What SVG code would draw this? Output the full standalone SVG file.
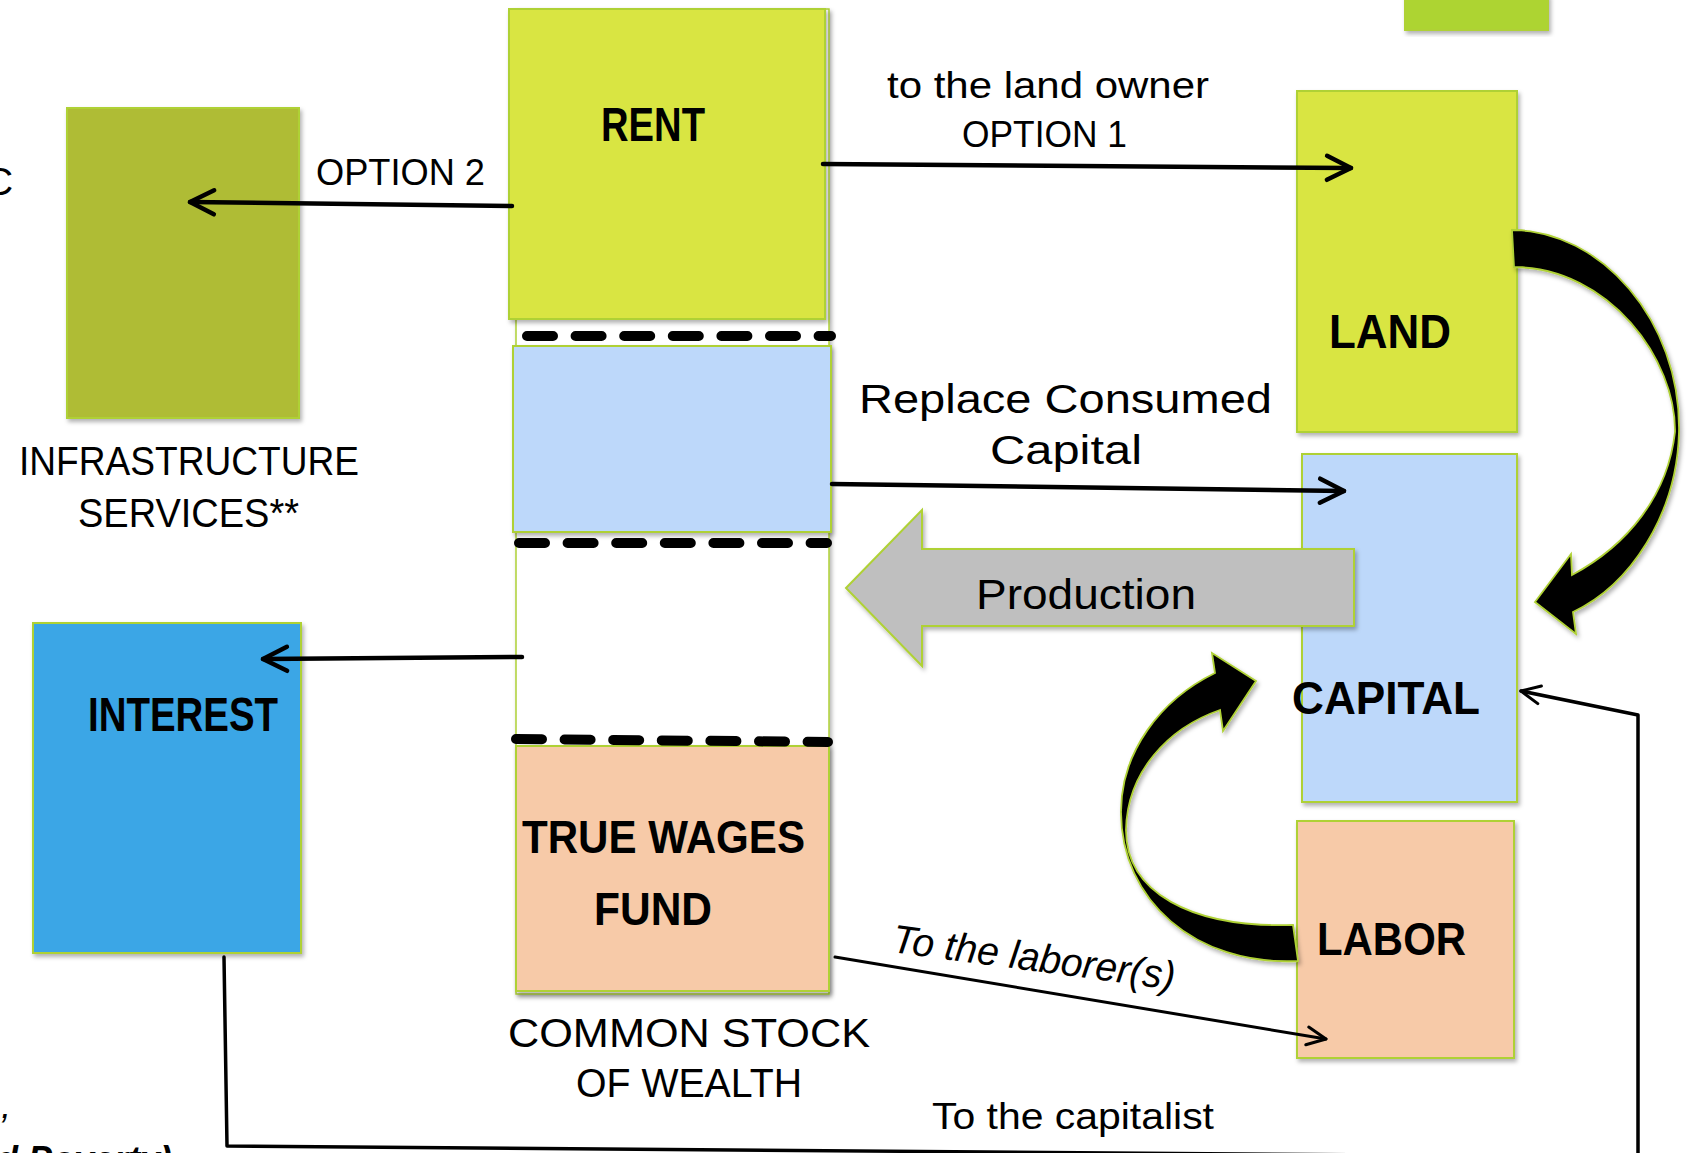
<svg xmlns="http://www.w3.org/2000/svg" width="1694" height="1153" viewBox="0 0 1694 1153">
<defs>
<filter id="sh" x="-10%" y="-10%" width="130%" height="130%"><feDropShadow dx="2" dy="3" stdDeviation="2" flood-color="#000" flood-opacity="0.3"/></filter>
<marker id="ah" markerUnits="userSpaceOnUse" viewBox="-30 -16 34 32" markerWidth="34" markerHeight="32" refX="0" refY="0" orient="auto" overflow="visible"><path d="M-24,-12 L0,0 L-24,12" fill="none" stroke="#000" stroke-width="4.5" stroke-linecap="round" stroke-linejoin="round"/></marker>
<marker id="ahs" markerUnits="userSpaceOnUse" viewBox="-24 -12 28 24" markerWidth="28" markerHeight="24" refX="0" refY="0" orient="auto" overflow="visible"><path d="M-19,-9 L0,0 L-19,9" fill="none" stroke="#000" stroke-width="3" stroke-linecap="round" stroke-linejoin="round"/></marker>
<style>
.bx{stroke:#AFD136;stroke-width:2;filter:url(#sh);}
.t{font-family:"Liberation Sans",Arial,sans-serif;fill:#000;}
.b{font-weight:bold;}
.ln{fill:none;stroke:#000;stroke-linecap:round;stroke-linejoin:round;}
.dash{fill:none;stroke:#000;stroke-width:10;stroke-linecap:round;stroke-dasharray:26 22.6;}
.blk{fill:#000;stroke:#AFD136;stroke-width:1.8;filter:url(#sh);}
</style>
</defs>
<rect width="1694" height="1153" fill="#fff"/>

<g id="topright"><rect class="bx" x="1405" y="-5" width="143" height="35" fill="#ADD432"/></g>

<g id="column"><rect x="516" y="9" width="313" height="985" fill="#fff" stroke="#AFD136" stroke-width="1.5" filter="url(#sh)"/></g>

<g id="rent"><rect class="bx" x="509" y="9" width="316" height="310" fill="#D9E542"/>
<text class="t b" x="601" y="141" font-size="49" textLength="104" lengthAdjust="spacingAndGlyphs">RENT</text></g>

<g id="replace"><rect class="bx" x="513" y="346" width="318" height="186" fill="#BDD8FA"/></g>

<g id="wages"><rect class="bx" x="516" y="746" width="313" height="245" fill="#F7CAA8"/>
<text class="t b" x="522" y="853" font-size="46" textLength="283" lengthAdjust="spacingAndGlyphs">TRUE WAGES</text>
<text class="t b" x="594" y="925" font-size="46" textLength="118" lengthAdjust="spacingAndGlyphs">FUND</text></g>

<g id="dividers">
<line class="dash" x1="527" y1="336" x2="831" y2="336"/>
<line class="dash" x1="519" y1="543" x2="827" y2="543"/>
<line class="dash" x1="516" y1="739" x2="828" y2="742"/>
</g>

<g id="stock-label">
<text class="t" x="508" y="1047" font-size="40" textLength="362" lengthAdjust="spacingAndGlyphs">COMMON STOCK</text>
<text class="t" x="576" y="1097" font-size="40" textLength="226" lengthAdjust="spacingAndGlyphs">OF WEALTH</text></g>

<g id="infrastructure"><rect class="bx" x="67" y="108" width="232" height="310" fill="#AFBC35"/>
<text class="t" x="19" y="475" font-size="41" textLength="340" lengthAdjust="spacingAndGlyphs">INFRASTRUCTURE</text>
<text class="t" x="78" y="527" font-size="41" textLength="221" lengthAdjust="spacingAndGlyphs">SERVICES**</text></g>

<g id="interest"><rect class="bx" x="33" y="623" width="268" height="330" fill="#3BA6E6"/>
<text class="t b" x="88" y="731" font-size="48" textLength="190" lengthAdjust="spacingAndGlyphs">INTEREST</text></g>

<g id="land"><rect class="bx" x="1297" y="91" width="220" height="341" fill="#D9E542"/>
<text class="t b" x="1329" y="348" font-size="49" textLength="122" lengthAdjust="spacingAndGlyphs">LAND</text></g>

<g id="capital"><rect class="bx" x="1302" y="454" width="215" height="348" fill="#BDD8FA"/>
<text class="t b" x="1292" y="714" font-size="47" textLength="188" lengthAdjust="spacingAndGlyphs">CAPITAL</text></g>

<g id="labor"><rect class="bx" x="1297" y="821" width="217" height="237" fill="#F7CAA8"/>
<text class="t b" x="1317" y="955" font-size="47" textLength="149" lengthAdjust="spacingAndGlyphs">LABOR</text></g>

<g id="edge-text">
<text class="t" x="-15" y="195" font-size="39">C</text>
<text class="t" x="1" y="1118" font-size="36" font-style="italic">,</text>
<text class="t b" x="-4" y="1172" font-size="36" font-style="italic">d Poverty)</text>
</g>

<g id="connectors">
<g id="production">
<polygon points="846,588 922,510 922,549 1354,549 1354,626 922,626 922,666" fill="#BFBFBF" stroke="#AFD136" stroke-width="2" filter="url(#sh)"/>
<text class="t" x="976" y="609" font-size="43" textLength="220" lengthAdjust="spacingAndGlyphs">Production</text>
</g>
<path class="blk" d="M1512,230 C1600,230 1681,320 1679,432 C1677,515 1630,585 1573,612 L1576,634 L1535,602 L1571,554 L1572,575 C1628,545 1668,495 1675,432 C1676,360 1610,268 1514,267 Z"/>
<path class="blk" d="M1298,961 C1195,966 1121,900 1121,812 C1121,752 1160,700 1215,673 L1212,653 L1256,681 L1223,731 L1220,710 C1168,728 1127,772 1126,830 C1126,892 1190,928 1293,925 Z"/>

<line class="ln" x1="823" y1="164" x2="1351" y2="168" stroke-width="4.5" marker-end="url(#ah)"/>
<text class="t" x="887" y="98" font-size="37" textLength="322" lengthAdjust="spacingAndGlyphs">to the land owner</text>
<text class="t" x="962" y="147" font-size="37" textLength="165" lengthAdjust="spacingAndGlyphs">OPTION 1</text>

<line class="ln" x1="512" y1="206" x2="190" y2="202" stroke-width="4.5" marker-end="url(#ah)"/>
<text class="t" x="316" y="185" font-size="37" textLength="169" lengthAdjust="spacingAndGlyphs">OPTION 2</text>

<line class="ln" x1="832" y1="484" x2="1344" y2="491" stroke-width="4.5" marker-end="url(#ah)"/>
<text class="t" x="859" y="413" font-size="40" textLength="413" lengthAdjust="spacingAndGlyphs">Replace Consumed</text>
<text class="t" x="990" y="464" font-size="40" textLength="152" lengthAdjust="spacingAndGlyphs">Capital</text>

<line class="ln" x1="522" y1="657" x2="263" y2="659" stroke-width="4.5" marker-end="url(#ah)"/>

<line class="ln" x1="835" y1="957" x2="1326" y2="1039" stroke-width="3" marker-end="url(#ahs)"/>
<text class="t" x="891" y="952" font-size="40" font-style="italic" textLength="285" lengthAdjust="spacingAndGlyphs" transform="rotate(7.6 891 952)">To the laborer(s)</text>

<polyline class="ln" points="224,957 227,1146 1638,1157 1638,715 1521,691" stroke-width="3.5" marker-end="url(#ahs)"/>
<text class="t" x="932" y="1129" font-size="36" textLength="282" lengthAdjust="spacingAndGlyphs">To the capitalist</text>
</g>
</svg>
